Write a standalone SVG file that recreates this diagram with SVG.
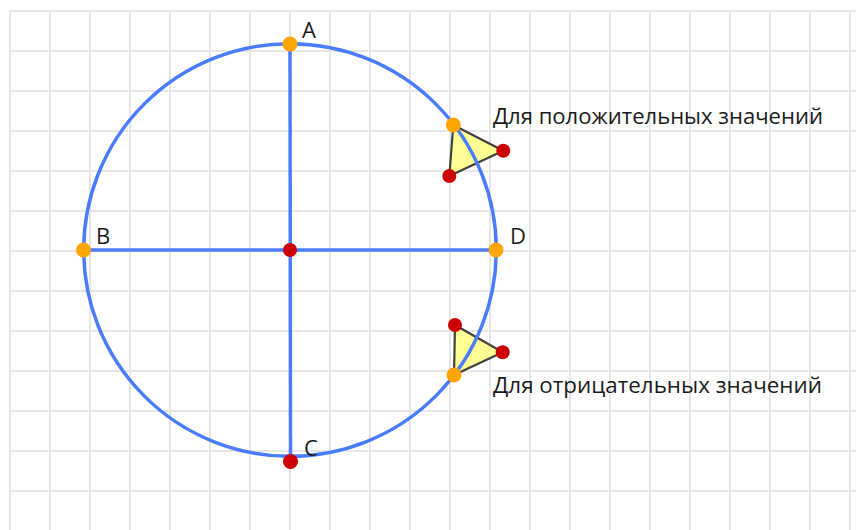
<svg xmlns="http://www.w3.org/2000/svg" width="856" height="530" viewBox="0 0 856 530">
<style>
.grid{stroke:#e6e6e6;stroke-width:2;fill:none}
.blue{stroke:#4a7cff;stroke-width:3.5;fill:none}
.tri{fill:#ffff80;fill-opacity:0.85;stroke:#404040;stroke-width:2.2;stroke-linejoin:round}
.or{fill:#ffa500}
.rd{fill:#cc0000}
.lbl{font-family:"Open Sans","Noto Sans","DejaVu Sans",sans-serif;font-size:22px;font-weight:500;fill:#1a1a1a}
.txt{font-family:"Open Sans","Noto Sans","DejaVu Sans",sans-serif;font-size:21px;font-weight:500;fill:#1a1a1a}
</style>
<rect width="856" height="530" fill="#ffffff"/>
<path class="grid" d="M10 10V530M50 10V530M90 10V530M130 10V530M170 10V530M210 10V530M250 10V530M290 10V530M330 10V530M370 10V530M410 10V530M450 10V530M490 10V530M530 10V530M570 10V530M610 10V530M650 10V530M690 10V530M730 10V530M770 10V530M810 10V530M850 10V530
M10 11H856M10 51H856M10 91H856M10 131H856M10 171H856M10 211H856M10 251H856M10 291H856M10 331H856M10 371H856M10 411H856M10 451H856M10 491H856"/>
<g id="triangle-pos"><polygon class="tri" points="453.3,125 503.3,150.7 449.3,176"/></g>
<g id="triangle-neg"><polygon class="tri" points="455,325 502.7,352.3 454,375"/></g>
<g id="connectors">
<circle class="blue" cx="290" cy="250" r="206.3"/>
<line class="blue" x1="290" y1="44" x2="290.5" y2="461.5"/>
<line class="blue" x1="83.5" y1="250" x2="496" y2="250"/>
</g>
<g id="O"><circle class="rd" cx="290" cy="250" r="7"/></g>
<g id="A"><circle class="or" cx="290" cy="44" r="7.5"/><text class="lbl" x="302" y="37.5">A</text></g>
<g id="B"><circle class="or" cx="83.5" cy="250" r="7.5"/><text class="lbl" x="96" y="243.5">B</text></g>
<g id="C"><circle class="rd" cx="290.5" cy="461.5" r="7.5"/><text class="lbl" x="304" y="455.5">C</text></g>
<g id="D"><circle class="or" cx="496" cy="250" r="7.5"/><text class="lbl" x="510" y="243.5">D</text></g>
<g id="pos-points">
<circle class="or" cx="453.3" cy="125" r="7.5"/>
<circle class="rd" cx="503.3" cy="150.7" r="7"/>
<circle class="rd" cx="449.3" cy="176" r="7"/>
</g>
<g id="neg-points">
<circle class="rd" cx="455" cy="325" r="7"/>
<circle class="rd" cx="502.7" cy="352.3" r="7"/>
<circle class="or" cx="454" cy="375" r="7.5"/>
</g>
<g id="label-pos"><text class="txt" x="493" y="124" textLength="330" lengthAdjust="spacingAndGlyphs">Для положительных значений</text></g>
<g id="label-neg"><text class="txt" x="493" y="393" textLength="329" lengthAdjust="spacingAndGlyphs">Для отрицательных значений</text></g>
</svg>
